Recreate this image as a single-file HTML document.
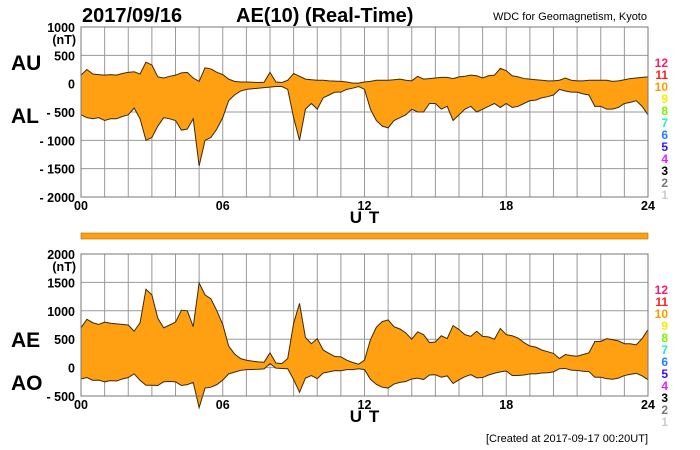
<!DOCTYPE html>
<html><head><meta charset="utf-8"><style>
body{margin:0;background:#fff;width:700px;height:450px;overflow:hidden}
svg{display:block;font-family:"Liberation Sans",Arial,sans-serif}
</style></head><body>
<svg id="c" width="700" height="450"></svg>
<script>
const auValues=[150,250,170,160,150,160,150,180,200,210,170,380,330,120,100,130,150,190,200,100,40,280,260,200,160,80,40,30,30,25,20,25,200,30,20,60,180,130,80,70,60,60,50,45,40,30,10,10,30,40,60,60,60,70,80,60,50,130,80,90,100,110,110,90,120,130,150,140,100,140,150,270,230,140,120,90,80,70,60,50,50,60,100,60,50,50,60,60,60,60,40,50,70,90,100,110,120];
const alValues=[-550,-600,-620,-600,-650,-620,-620,-580,-550,-430,-620,-1000,-950,-750,-600,-620,-650,-820,-800,-620,-1450,-1000,-950,-800,-600,-300,-200,-130,-100,-90,-80,-70,-60,-50,-50,-100,-600,-1000,-450,-350,-450,-250,-200,-150,-150,-100,-80,-50,-100,-450,-650,-750,-780,-650,-600,-550,-450,-500,-500,-350,-350,-450,-400,-650,-550,-450,-400,-500,-450,-400,-350,-420,-350,-420,-400,-350,-300,-290,-250,-230,-200,-100,-130,-150,-150,-180,-200,-400,-400,-450,-450,-420,-350,-330,-300,-400,-550];
const stepHours=0.25;
const topTicks=[1000,500,0,-500,-1000,-1500,-2000];
const botTicks=[2000,1500,1000,500,0,-500];
const xTicks=["00","06","12","18","24"];
const legendNums=["12","11","10","9","8","7","6","5","4","3","2","1"];
const legendColors=["#ff1a6e","#ff2020","#ff9900","#f0f000","#80f000","#20f0c0","#2080ff","#3010ff","#e020ff","#000","#777","#ccc"];

const NS="http://www.w3.org/2000/svg",svg=document.getElementById('c');
function el(t,a,txt){const e=document.createElementNS(NS,t);for(const k in a)e.setAttribute(k,a[k]);if(txt!=null)e.textContent=txt;svg.appendChild(e);return e;}
const X0=81,X1=648;
const sx=h=>X0+(X1-X0)*h/24;
function panel(yTop,yBot,vMax,vMin,ticks,upper,lower,name){
  const sy=v=>yTop+(vMax-v)/(vMax-vMin)*(yBot-yTop);
  const hx=i=>sx(i*stepHours);
  for(let h=0;h<=24;h++){const l=el('line',{x1:sx(h),x2:sx(h),y1:yTop,y2:yBot,stroke:'#999','stroke-width':1});
    }
  ticks.forEach(v=>{const l=el('line',{x1:X0,x2:X1,y1:sy(v),y2:sy(v),stroke:'#999','stroke-width':1});
    
    const t=el('text',{x:75,y:sy(v)+5,'text-anchor':'end','font-size':12.5,'font-weight':'bold'},(v<0?'- '+(-v):String(v)));
    });
  let d='M'+upper.map((v,i)=>hx(i)+','+sy(v)).join('L');
  for(let i=lower.length-1;i>=0;i--)d+='L'+hx(i)+','+sy(lower[i]);
  const a=el('path',{d:d+'Z',fill:'#ff9f12',stroke:'none'});
  
  [upper,lower].forEach((s,k)=>{const p=el('polyline',{points:s.map((v,i)=>hx(i)+','+sy(v)).join(' '),fill:'none',stroke:'#3a2a10','stroke-width':1});
    });
  const b=el('rect',{x:X0,y:yTop,width:X1-X0,height:yBot-yTop,fill:'none',stroke:'#777','stroke-width':1});
  
  const u=el('text',{x:X0-5,y:yTop+17,'text-anchor':'end','font-size':12.5,'font-weight':'bold'},'(nT)');
  
  xTicks.forEach((t,i)=>{const e=el('text',{x:sx(i*6),y:yBot+13,'text-anchor':'middle','font-size':12.5,'font-weight':'bold'},t);
    });
  const ut=el('text',{x:sx(12),y:yBot+26,'text-anchor':'middle','font-size':17,'font-weight':'bold'},'U\u2009\u2009T');
  
  legendNums.forEach((n,i)=>{const e=el('text',{x:668,y:yTop+40+i*12,'text-anchor':'end','font-size':12,'font-weight':'bold',fill:legendColors[i]},n);
    });
  return sy;
}
panel(27,197,1000,-2000,topTicks,auValues,alValues,'top-panel');
const aeValues=auValues.map((u,i)=>u-alValues[i]);
const aoValues=auValues.map((u,i)=>(u+alValues[i])/2);
panel(254,396,2000,-500,botTicks,aeValues,aoValues,'bottom-panel');
const bar=el('rect',{x:X0,y:233,width:X1-X0,height:6,fill:'#ff9f12',stroke:'#b07010','stroke-width':0.6});

[['2017/09/16',82,22,20,'title-date'],['AE(10) (Real-Time)',236,22,20,'title'],['AU',11,70,21,'au-label'],['AL',11,123,21,'al-label'],['AE',11,347,21,'ae-label'],['AO',11,390,21,'ao-label']].forEach(a=>{
  const t=el('text',{x:a[1],y:a[2],'font-size':a[3],'font-weight':'bold'},a[0]);
  });
const w=el('text',{x:647,y:20,'text-anchor':'end','font-size':11},'WDC for Geomagnetism, Kyoto');

const cr=el('text',{x:648,y:442,'text-anchor':'end','font-size':11},'[Created at 2017-09-17 00:20UT]');

</script>
</body></html>
